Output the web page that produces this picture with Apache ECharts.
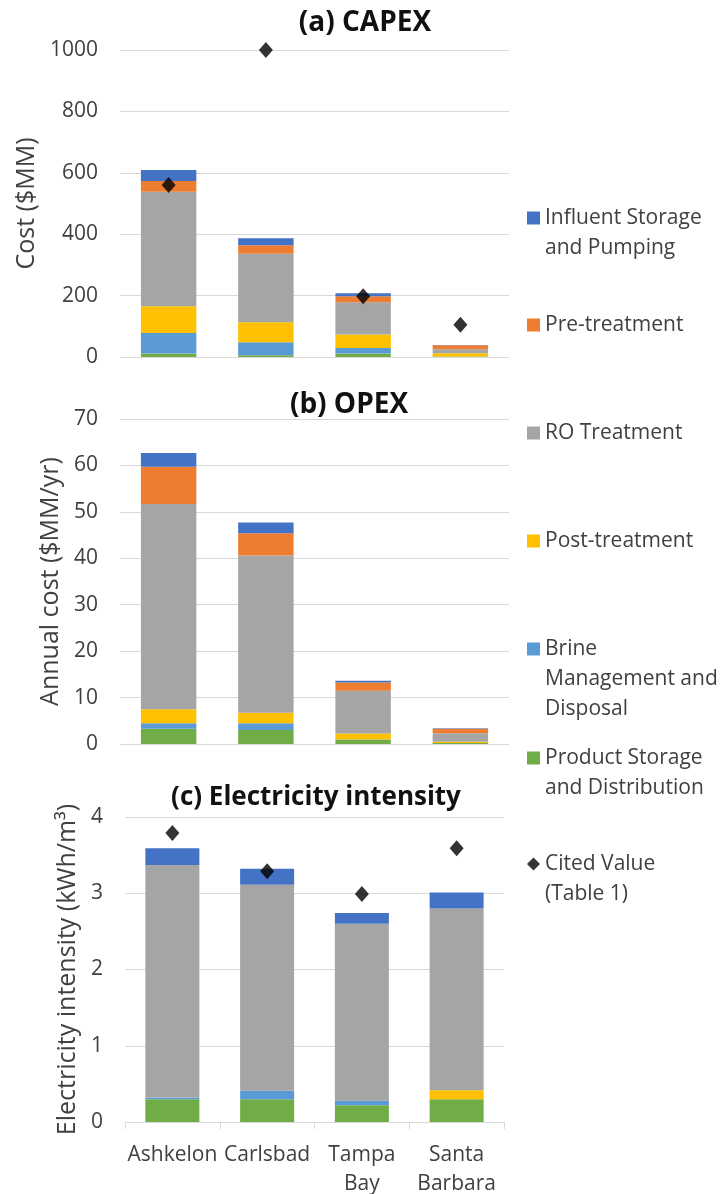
<!DOCTYPE html>
<html>
<head>
<meta charset="utf-8">
<script src="https://cdn.jsdelivr.net/npm/echarts@6/dist/echarts.min.js"></script>
<style>
  html, body { margin: 0; padding: 0; background: #fff; }
  #chart { width: 722px; height: 1194px; }
</style>
</head>
<body>
<div id="chart"></div>
<script>
"use strict";

// plants
var plants = ['Ashkelon', 'Carlsbad', 'Tampa\nBay', 'Santa\nBarbara'];

// stack order, bottom to top
var seriesNames = ['Product Storage and Distribution', 'Brine Management and Disposal',
  'Post-treatment', 'RO Treatment', 'Pre-treatment', 'Influent Storage and Pumping'];
var citedName = 'Cited Value (Table 1)';

// (a) CAPEX, $MM
var capexProduct = [11, 6, 11, 2];
var capexBrine = [67, 42, 18, 0];
var capexPost = [87, 65, 44, 10];
var capexRO = [373, 223, 105, 13];
var capexPre = [35, 28, 20, 13];
var capexInfluent = [36, 23, 10, 1];
var capexCited = [560, 1000, 198, 105];

// (b) OPEX, $MM/yr
var opexProduct = [3.3, 3.0, 0.85, 0.2];
var opexBrine = [1.15, 1.45, 0.1, 0];
var opexPost = [3.05, 2.3, 1.3, 0.3];
var opexRO = [44.2, 33.85, 9.2, 1.8];
var opexPre = [8.0, 4.8, 1.8, 1.0];
var opexInfluent = [3.0, 2.3, 0.4, 0.1];

// (c) electricity intensity, kWh/m3
var elecProduct = [0.30, 0.30, 0.22, 0.30];
var elecBrine = [0.02, 0.11, 0.06, 0];
var elecPost = [0, 0, 0, 0.115];
var elecRO = [3.05, 2.70, 2.32, 2.385];
var elecPre = [0, 0, 0, 0];
var elecInfluent = [0.22, 0.21, 0.14, 0.21];
var elecCited = [3.79, 3.29, 2.99, 3.59];

// axis ticks
var capexTicks = { max: 1000, interval: 200 };
var opexTicks = { max: 70, interval: 10 };
var elecTicks = { max: 4, interval: 1 };

var colors = {
  'Product Storage and Distribution': '#70AD47',
  'Brine Management and Disposal': '#5B9BD5',
  'Post-treatment': '#FFC000',
  'RO Treatment': '#A5A5A5',
  'Pre-treatment': '#ED7D31',
  'Influent Storage and Pumping': '#4472C4'
};

var FONT = '"Open Sans", "Noto Sans", sans-serif';
var TXT = '#404040';
var GRIDLINE = '#D9D9D9';

var chart = echarts.init(document.getElementById('chart'));

function yAxisFor(idx, name, ticks, gap) {
  return {
    type: 'value', gridIndex: idx, min: 0, max: ticks.max, interval: ticks.interval,
    name: name, nameLocation: 'middle', nameGap: gap,
    nameTextStyle: { fontFamily: FONT, fontSize: 25, color: TXT },
    axisLine: { show: false }, axisTick: { show: false },
    axisLabel: {
      fontFamily: FONT, fontSize: 21, color: TXT, margin: 22,
      formatter: function (v) { return String(v); }
    },
    splitLine: { lineStyle: { color: GRIDLINE, width: 1 } }
  };
}

function xAxisFor(idx, showLabels) {
  return {
    type: 'category', gridIndex: idx, data: plants,
    axisLine: { show: showLabels, lineStyle: { color: GRIDLINE, width: 1 } },
    axisTick: { show: showLabels, length: 7, lineStyle: { color: GRIDLINE } },
    axisLabel: {
      show: showLabels, interval: 0, fontFamily: FONT, fontSize: 21,
      lineHeight: 29, color: TXT, margin: 19
    }
  };
}

function barSeries(idx, lists) {
  var out = [];
  for (var i = 0; i < seriesNames.length; i++) {
    out.push({
      name: seriesNames[i], type: 'bar', stack: 'panel' + idx,
      xAxisIndex: idx, yAxisIndex: idx, data: lists[i],
      barWidth: '57%', itemStyle: { color: colors[seriesNames[i]] },
      emphasis: { disabled: true }
    });
  }
  return out;
}

function citedSeries(idx, data) {
  return {
    name: citedName, type: 'scatter', xAxisIndex: idx, yAxisIndex: idx,
    data: data, symbol: 'diamond', symbolSize: [14, 16], clip: false,
    itemStyle: { color: '#000' }, z: 5
  };
}

var series = []
  .concat(barSeries(0, [capexProduct, capexBrine, capexPost, capexRO, capexPre, capexInfluent]))
  .concat([citedSeries(0, capexCited)])
  .concat(barSeries(1, [opexProduct, opexBrine, opexPost, opexRO, opexPre, opexInfluent]))
  .concat(barSeries(2, [elecProduct, elecBrine, elecPost, elecRO, elecPre, elecInfluent]))
  .concat([citedSeries(2, elecCited)]);

// legend, one box per entry; blank lines in front push the text down so
// the icon (centred on the text block) lines up with the first real line
var legendNames = ['Influent Storage and Pumping', 'Pre-treatment', 'RO Treatment',
  'Post-treatment', 'Brine Management and Disposal', 'Product Storage and Distribution', citedName];
var legendText = ['Influent Storage\nand Pumping', 'Pre-treatment', 'RO Treatment', 'Post-treatment',
  'Brine\nManagement and\nDisposal', 'Product Storage\nand Distribution', 'Cited Value\n(Table 1)'];
var legendLineY = [218, 325, 433, 541, 649, 758, 864];
var LH = 30;

var legends = [];
for (var k = 0; k < legendNames.length; k++) {
  var n = legendText[k].split('\n').length;
  var lead = '';
  for (var j = 1; j < n; j++) lead += ' \n';
  legends.push({
    data: [{ name: legendNames[k], icon: k === 6 ? 'diamond' : 'rect' }],
    left: 527,
    top: legendLineY[k] - (2 * n - 1) * LH / 2,
    padding: 0,
    itemWidth: 13, itemHeight: 13,
    selectedMode: false,
    formatter: (function (t) { return function () { return t; }; })(lead + legendText[k]),
    textStyle: { fontFamily: FONT, fontSize: 21, lineHeight: LH, color: TXT }
  });
}

function titleFor(text, x, y, size) {
  return {
    text: text, left: x, top: y, textAlign: 'center', padding: 0,
    textStyle: { fontFamily: FONT, fontSize: size, fontWeight: 'bold', color: '#111' }
  };
}

chart.setOption({
  animation: false,
  title: [
    titleFor('(a) CAPEX', 365, 9, 28),
    titleFor('(b) OPEX', 349, 391, 28),
    titleFor('(c) Electricity intensity', 316, 785, 26)
  ],
  legend: legends,
  grid: [
    { left: 120, top: 50, width: 389, height: 307, outerBoundsMode: 'none' },
    { left: 120, top: 419, width: 389, height: 325, outerBoundsMode: 'none' },
    { left: 125, top: 817, width: 379, height: 305, outerBoundsMode: 'none' }
  ],
  xAxis: [xAxisFor(0, false), xAxisFor(1, false), xAxisFor(2, true)],
  yAxis: [
    yAxisFor(0, 'Cost ($MM)', capexTicks, 74),
    yAxisFor(1, 'Annual cost ($MM/yr)', opexTicks, 48),
    yAxisFor(2, 'Electricity intensity (kWh/m\u00B3)', elecTicks, 35)
  ],
  series: series
});
</script>
</body>
</html>
